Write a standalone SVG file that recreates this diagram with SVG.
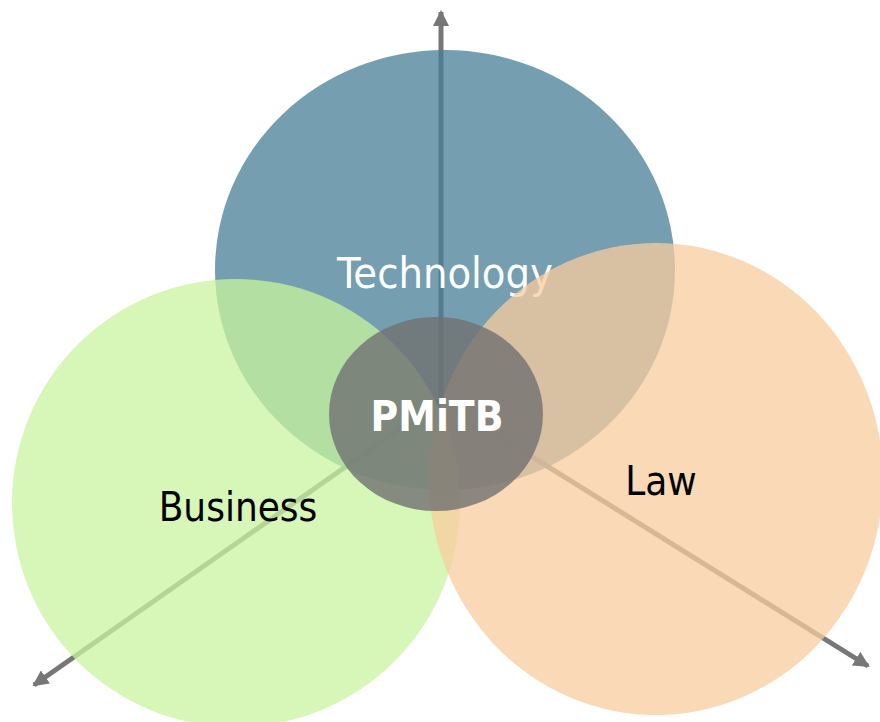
<svg xmlns="http://www.w3.org/2000/svg" width="880" height="722" viewBox="0 0 880 722">
<style>
.axis{stroke:#777777;stroke-width:5;fill:none}
.lbl{font-family:"DejaVu Sans Condensed","DejaVu Sans",sans-serif;font-stretch:condensed;font-size:40px;text-anchor:middle}
.core{font-family:"DejaVu Sans",sans-serif;font-weight:bold;font-size:42px;text-anchor:middle;fill:#ffffff}
</style>
<defs>
<marker id="ah" viewBox="0 0 16 16" refX="14" refY="8" markerWidth="16" markerHeight="16" markerUnits="userSpaceOnUse" orient="auto">
<path d="M0,0 L16,8 L0,16 Z" fill="#777777"/>
</marker>
</defs>
<rect width="880" height="722" fill="#ffffff"/>
<g id="connectors">
<line class="axis" x1="441" y1="400" x2="441" y2="12" marker-end="url(#ah)"/>
<line class="axis" x1="441" y1="400" x2="34" y2="685" marker-end="url(#ah)"/>
<line class="axis" x1="441" y1="400" x2="868" y2="666" marker-end="url(#ah)"/>
</g>
<g id="technology">
<ellipse cx="445" cy="270" rx="230" ry="220" fill="#477e96" fill-opacity="0.75"/>
<text class="lbl" x="445" y="288" fill="#ffffff" style="font-size:43px">Technology</text>
</g>
<g id="business">
<circle cx="236" cy="503" r="224" fill="#c8f49f" fill-opacity="0.75"/>
</g>
<g id="law">
<ellipse cx="656" cy="479" rx="227" ry="236" fill="#f8cc9e" fill-opacity="0.75"/>
</g>
<text class="lbl" x="238" y="521" fill="#000000">Business</text>
<text class="lbl" x="661" y="495" fill="#000000">Law</text>
<g id="pmitb">
<ellipse cx="436" cy="414" rx="107" ry="97" fill="#707070" fill-opacity="0.8"/>
<text class="core" x="437" y="431" textLength="133" lengthAdjust="spacingAndGlyphs">PMiTB</text>
</g>
</svg>
